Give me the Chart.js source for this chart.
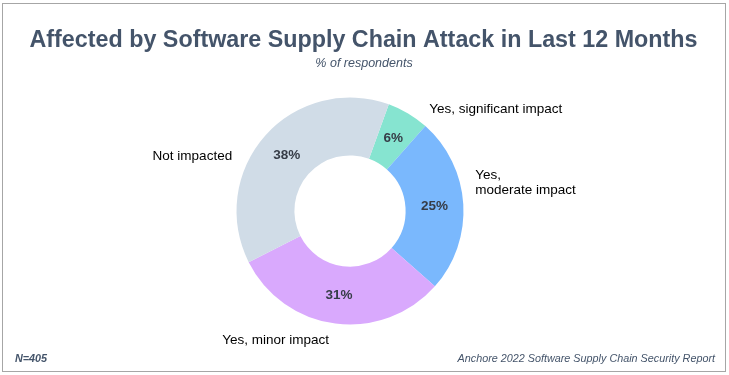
<!DOCTYPE html>
<html>
<head>
<meta charset="utf-8">
<script src="https://cdn.jsdelivr.net/npm/chart.js@4/dist/chart.umd.min.js"></script>
<style>
  html, body { margin: 0; padding: 0; background: #fff; }
  #wrap { width: 729px; height: 375px; }
</style>
</head>
<body>
<div id="wrap"><canvas id="attackChart" width="729" height="375"></canvas></div>
<script>
// Chart data
const categories = ['Yes, significant impact', 'Yes, moderate impact', 'Yes, minor impact', 'Not impacted'];
const labelLines = [['Yes, significant impact'], ['Yes,', 'moderate impact'], ['Yes, minor impact'], ['Not impacted']];
const shares = [6, 25, 31, 38];

const sliceColors = ['#86e4d0', '#7ab8fd', '#d9a9fd', '#d0dce7'];
const FONT = '"Liberation Sans", Arial, sans-serif';
const SLATE = '#44546a';

// nudges for the outside labels, relative to a point just outside each slice
const labelNudge = [
    { dx: 16, dy: 8, align: 'left' },
    { dx: 2, dy: -25, align: 'left' },
    { dx: -5, dy: 10.5, align: 'right' },
    { dx: -25.5, dy: 31, align: 'right' }
];

// Draws frame, titles, footer and labels
const decorPlugin = {
    id: 'decor',
    beforeDraw(chart) {
        const ctx = chart.ctx;
        ctx.save();
        ctx.fillStyle = '#fff';
        ctx.fillRect(0, 0, chart.width, chart.height);
        ctx.strokeStyle = '#a6a6a6';
        ctx.lineWidth = 1;
        ctx.strokeRect(2.5, 3.5, 723, 368);
        ctx.restore();
    },
    afterDatasetsDraw(chart) {
        const ctx = chart.ctx;
        const meta = chart.getDatasetMeta(0);
        ctx.save();

        // title + subtitle
        ctx.fillStyle = SLATE;
        ctx.textAlign = 'center';
        ctx.textBaseline = 'alphabetic';
        ctx.font = 'bold 23.3px ' + FONT;
        ctx.fillText('Affected by Software Supply Chain Attack in Last 12 Months', 363.5, 47);
        ctx.font = 'italic 12.5px ' + FONT;
        ctx.fillText('% of respondents', 364, 67);

        // footer
        ctx.font = 'bold italic 10.8px ' + FONT;
        ctx.textAlign = 'left';
        ctx.fillText('N=405', 15, 362);
        ctx.font = 'italic 10.8px ' + FONT;
        ctx.textAlign = 'right';
        ctx.fillText('Anchore 2022 Software Supply Chain Security Report', 715, 362);

        meta.data.forEach((arc, i) => {
            // percent inside the ring
            const pos = arc.tooltipPosition();
            ctx.font = 'bold 13.5px ' + FONT;
            ctx.fillStyle = '#363c47';
            ctx.textAlign = 'center';
            ctx.textBaseline = 'middle';
            ctx.fillText(shares[i] + '%', pos.x, pos.y);

            // category label outside
            const mid = (arc.startAngle + arc.endAngle) / 2;
            const r = arc.outerRadius + 10;
            const n = labelNudge[i];
            const x = arc.x + Math.cos(mid) * r + n.dx;
            const y = arc.y + Math.sin(mid) * r + n.dy;
            ctx.font = '13.5px ' + FONT;
            ctx.fillStyle = '#000';
            ctx.textAlign = n.align;
            ctx.textBaseline = 'alphabetic';
            labelLines[i].forEach((line, k) => ctx.fillText(line, x, y + k * 15.5));
        });
        ctx.restore();
    }
};

new Chart(document.getElementById('attackChart'), {
    type: 'doughnut',
    data: {
        labels: categories,
        datasets: [{
            data: shares,
            backgroundColor: sliceColors,
            borderWidth: 0
        }]
    },
    options: {
        responsive: false,
        animation: false,
        rotation: 20,
        cutout: '49%',
        layout: { padding: { top: 97.5, bottom: 50.5, left: 200, right: 229 } },
        plugins: {
            legend: { display: false },
            tooltip: { enabled: false },
            title: { display: false }
        }
    },
    plugins: [decorPlugin]
});
</script>
</body>
</html>
